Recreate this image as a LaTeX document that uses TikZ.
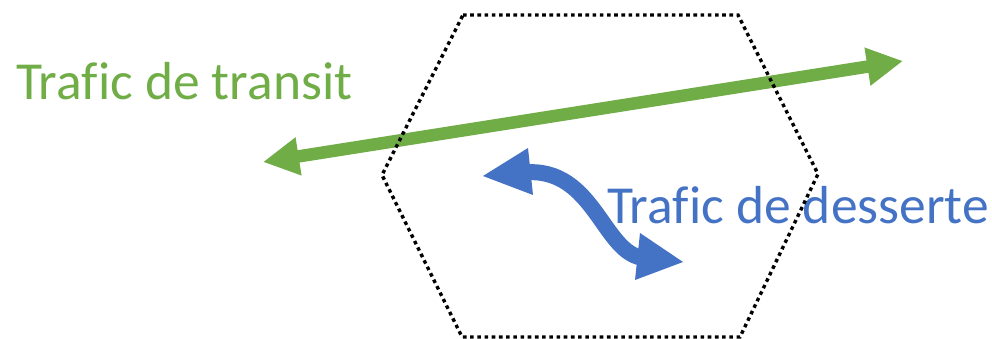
\documentclass[tikz,border=0pt]{standalone}
\usepackage{fontspec}
\setmainfont{Carlito}[Ligatures=NoCommon]
\usetikzlibrary{arrows.meta}
\definecolor{tgreen}{HTML}{70AD47}
\definecolor{tblue}{HTML}{4472C4}
\tikzset{
  hexline/.style={line width=3.4pt, dash pattern=on 3.6pt off 3.6pt, black},
  biglabel/.style={inner sep=0pt, anchor=base west, font=\fontsize{53.5}{60}\selectfont},
  transitarrow/.style={draw=tgreen, line width=12.5pt,
    {Triangle[length=36pt,width=36pt]}-{Triangle[length=36pt,width=36pt]}},
}
\begin{document}
\begin{tikzpicture}[x=1pt,y=-1pt]
\useasboundingbox (0,0) rectangle (992,339);
% labels
\node[biglabel, text=tgreen] (tr) at (16,100) {Trafic de transit};
\node[biglabel, text=tblue] (de) at (607,223) {Trafic de desserte};
% blue curved double arrow
\coordinate (bl) at (524,172.5);
\coordinate (br) at (645,258);
\draw[tblue, line width=16pt] (bl) .. controls (595,166) and (603,256) .. (br);
\fill[tblue] (483,176) -- (528,148) -- (533,195) -- cycle;
\fill[tblue] (683,262) -- (640,233) -- (635,280) -- cycle;
% green double arrow
\coordinate (gl) at (263,162);
\coordinate (gr) at (903,61);
\draw[transitarrow] (gl) -- (gr);
% hexagon
\draw[hexline] (463,15) -- (738,15) -- (818,174) -- (740,337) -- (462,337) -- (382,175) -- cycle;
\end{tikzpicture}
\end{document}
